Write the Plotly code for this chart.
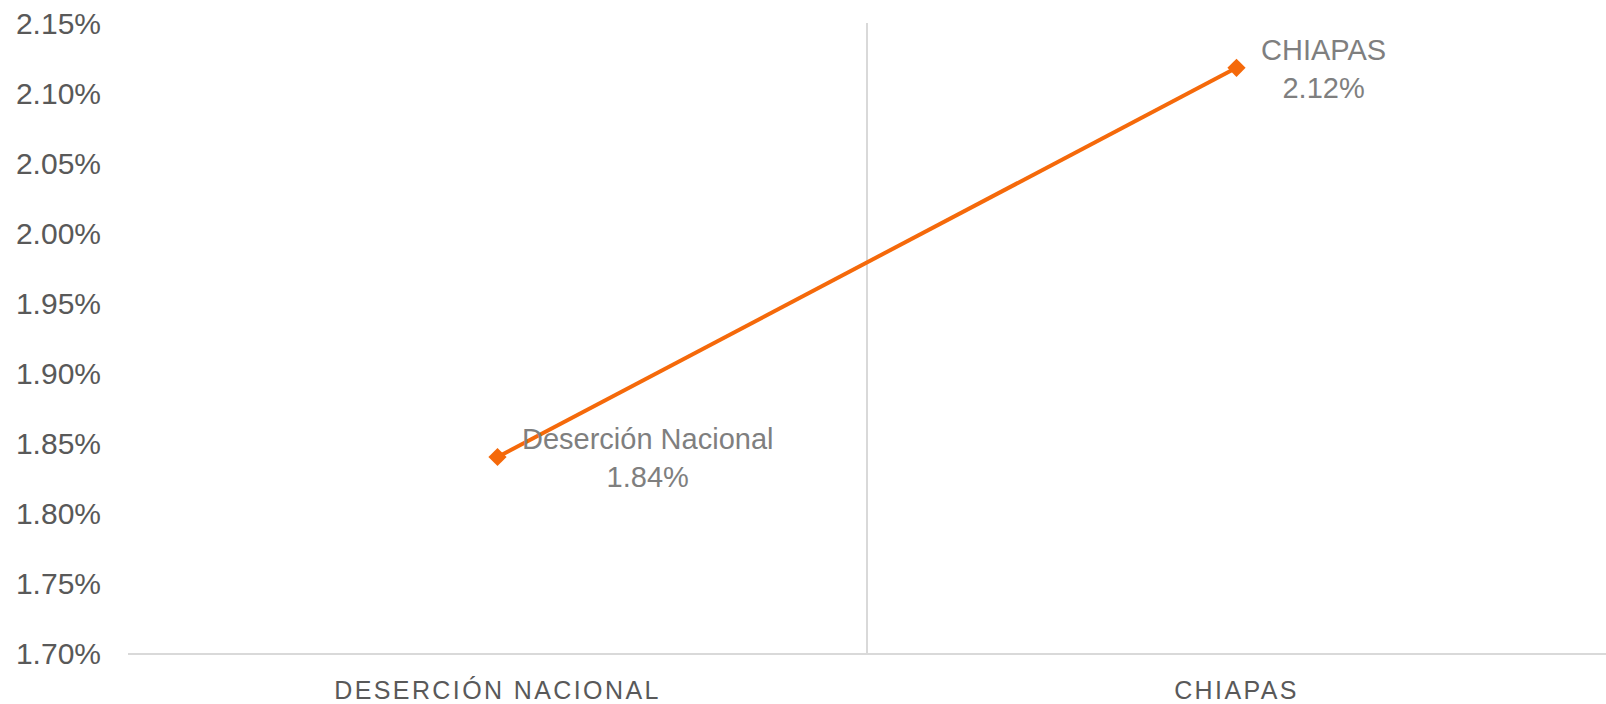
import plotly.graph_objects as go

categories = ["DESERCIÓN NACIONAL", "CHIAPAS"]
point_names = ["Deserción Nacional", "CHIAPAS"]
values = [0.0184, 0.02118]

ORANGE = "#F5690A"
GRID = "#D9D9D9"
FONT = "Liberation Sans, Arial, sans-serif"

fig = go.Figure()
fig.add_trace(go.Scatter(
    x=categories, y=values, mode="lines+markers",
    line=dict(color=ORANGE, width=4),
    marker=dict(symbol="diamond", size=14, color=ORANGE),
    hoverinfo="skip", showlegend=False,
))

for cat, name, v in zip(categories, point_names, values):
    fig.add_annotation(
        x=cat, y=v, xref="x", yref="y",
        text=f"{name}<br>{v*100:.2f}%",
        showarrow=False, xanchor="left", yanchor="middle", align="center",
        xshift=22, yshift=-1, font=dict(family=FONT, size=29, color="#7F7F7F"),
    )

fig.update_layout(
    width=1606, height=704,
    margin=dict(l=128, r=0, t=23, b=48),
    paper_bgcolor="white", plot_bgcolor="white",
    font=dict(family=FONT),
)
fig.update_xaxes(
    type="category", range=[-0.5, 1.5],
    tickson="boundaries", showgrid=True, gridcolor=GRID, gridwidth=1.5,
    showline=True, linecolor=GRID, linewidth=2,
    ticks="", ticklabelstandoff=14,
    tickfont=dict(family=FONT, size=25, color="#595959"),
    zeroline=False,
)
fig.update_yaxes(
    range=[0.017, 0.0215], dtick=0.0005, tick0=0.017, tickformat=".2%",
    showgrid=False, zeroline=False, showline=False,
    ticks="", ticklabelstandoff=26,
    tickfont=dict(family=FONT, size=30, color="#595959"),
)

post = """
document.body.style.margin = '0';
document.body.style.overflow = 'hidden';
var gd = document.getElementById('{plot_id}');
function ls(){ gd.querySelectorAll('.xtick text').forEach(function(t){ t.setAttribute('letter-spacing','2.4px'); }); }
ls();
gd.on('plotly_afterplot', ls);
"""
fig.write_html("out.html", post_script=post, config={"displayModeBar": False})
